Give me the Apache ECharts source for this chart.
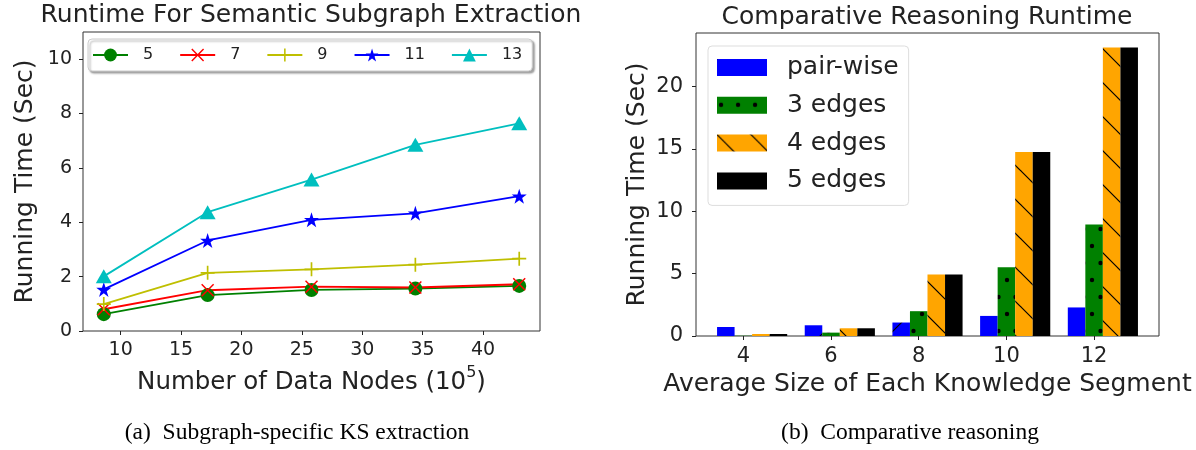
<!DOCTYPE html>
<html>
<head>
<meta charset="utf-8">
<title>Runtime charts</title>
<script src="https://cdn.jsdelivr.net/npm/echarts@6/dist/echarts.min.js"></script>
<style>
html, body { margin: 0; padding: 0; background: #fff; }
#main { width: 1196px; height: 450px; }
</style>
</head>
<body>
<div id="main"></div>
<script>
// left panel: subgraph extraction runtime
var dataNodes = [8.6, 17.2, 25.8, 34.4, 43.0];
var nodeTicks = [10, 15, 20, 25, 30, 35, 40];
var timeTicksA = [0, 2, 4, 6, 8, 10];
var ksNames = ['5', '7', '9', '11', '13'];
var ks5 = [0.62, 1.32, 1.51, 1.56, 1.66];
var ks7 = [0.80, 1.50, 1.63, 1.60, 1.72];
var ks9 = [0.99, 2.14, 2.27, 2.44, 2.66];
var ks11 = [1.53, 3.33, 4.09, 4.33, 4.96];
var ks13 = [2.01, 4.37, 5.57, 6.85, 7.64];

// right panel: comparative reasoning runtime
var segSizes = [4, 6, 8, 10, 12];
var timeTicksB = [0, 5, 10, 15, 20];
var barNames = ['pair-wise', '3 edges', '4 edges', '5 edges'];
var pairWise = [0.72, 0.86, 1.08, 1.61, 2.29];
var edges3 = [0.02, 0.27, 1.99, 5.51, 8.94];
var edges4 = [0.16, 0.62, 4.94, 14.76, 23.14];
var edges5 = [0.16, 0.62, 4.94, 14.76, 23.14];

var FONT = 'DejaVu Sans';
var INK = '#222';

// hatch fills like matplotlib
function hatch(bg, w, h, draw) {
	var c = document.createElement('canvas');
	c.width = w;
	c.height = h;
	var ctx = c.getContext('2d');
	ctx.fillStyle = bg;
	ctx.fillRect(0, 0, w, h);
	ctx.strokeStyle = '#000';
	ctx.fillStyle = '#000';
	ctx.lineWidth = 1.2;
	draw(ctx, w, h);
	return { image: c, repeat: 'repeat' };
}
function seg(ctx, x1, y1, x2, y2) {
	ctx.beginPath();
	ctx.moveTo(x1, y1);
	ctx.lineTo(x2, y2);
	ctx.stroke();
}
var blueHatch = hatch('#0000ff', 68, 68, function(ctx, w, h) {
	seg(ctx, 0, h, w, 0);
	seg(ctx, -2, 2, 2, -2);
	seg(ctx, w - 2, h + 2, w + 2, h - 2);
});
var greenHatch = hatch('#008000', 17, 34, function(ctx, w, h) {
	ctx.beginPath(); ctx.arc(4, 8, 2.2, 0, Math.PI * 2); ctx.fill();
	ctx.beginPath(); ctx.arc(12.5, 25, 2.2, 0, Math.PI * 2); ctx.fill();
});
var orangeHatch = hatch('#ffa500', 34, 34, function(ctx, w, h) {
	seg(ctx, 0, 0, w, h);
	seg(ctx, w - 2, -2, w + 2, 2);
	seg(ctx, -2, h - 2, 2, h + 2);
});

var starPath = 'path://M50,0 L61.8,35.1 L98.9,35.1 L69.1,56.7 L80.9,91.9 L50,70.2 L19.1,91.9 L30.9,56.7 L1.1,35.1 L38.2,35.1 Z';
var xPath = 'path://M0,8 L8,0 L50,42 L92,0 L100,8 L58,50 L100,92 L92,100 L50,58 L8,100 L0,92 L42,50 Z';
var plusPath = 'path://M44,0 L56,0 L56,44 L100,44 L100,56 L56,56 L56,100 L44,100 L44,56 L0,56 L0,44 L44,44 Z';

function lineSeries(name, vals, color, symbol, size) {
	return {
		name: name,
		type: 'line',
		xAxisIndex: 0,
		yAxisIndex: 0,
		data: dataNodes.map(function(x, i) { return [x, vals[i]]; }),
		symbol: symbol,
		symbolSize: size,
		showAllSymbol: true,
		lineStyle: { color: color, width: 1.8 },
		itemStyle: { color: color },
		emphasis: { disabled: true }
	};
}

function barSeries(name, vals, fill) {
	return {
		name: name,
		type: 'bar',
		xAxisIndex: 1,
		yAxisIndex: 1,
		barWidth: '20%',
		barGap: '0%',
		itemStyle: { color: fill },
		emphasis: { disabled: true },
		data: segSizes.map(function(s, i) { return [s, vals[i]]; })
	};
}

var series = [
	lineSeries(ksNames[0], ks5, '#008000', 'circle', 14),
	lineSeries(ksNames[1], ks7, '#ff0000', xPath, 13),
	lineSeries(ksNames[2], ks9, '#bfbf00', plusPath, 14),
	lineSeries(ksNames[3], ks11, '#0000ff', starPath, 15),
	lineSeries(ksNames[4], ks13, '#00bfbf', 'triangle', [16, 14]),
	// empty slot so the 2nd bar sits on the tick, as in matplotlib
	{ name: 'slot', type: 'bar', xAxisIndex: 1, yAxisIndex: 1, barWidth: '20%', barGap: '0%', data: [], silent: true },
	barSeries(barNames[0], pairWise, blueHatch),
	barSeries(barNames[1], edges3, greenHatch),
	barSeries(barNames[2], edges4, orangeHatch),
	barSeries(barNames[3], edges5, '#000000')
];

function tick(vals) {
	return { show: true, length: 4, lineStyle: { color: INK, width: 1 }, customValues: vals };
}
function label(vals, size, margin) {
	return { customValues: vals, fontSize: size, color: INK, margin: margin, fontFamily: FONT };
}

var chart = echarts.init(document.getElementById('main'));
chart.setOption({
	animation: false,
	backgroundColor: '#fff',
	textStyle: { fontFamily: FONT, color: INK },
	grid: [
		{ left: 83, top: 32, width: 457, height: 299, show: true, borderColor: '#333', borderWidth: 1, backgroundColor: 'transparent', outerBoundsMode: 'none' },
		{ left: 696, top: 33, width: 463, height: 303, show: true, borderColor: '#333', borderWidth: 1, backgroundColor: 'transparent', outerBoundsMode: 'none' }
	],
	xAxis: [
		{
			type: 'value', gridIndex: 0, min: 6.88, max: 44.72,
			axisLine: { show: false },
			axisTick: tick(nodeTicks),
			axisLabel: label(nodeTicks, 19, 10),
			splitLine: { show: false },
			name: '{a|Number of Data Nodes (10}{b|5}{a|)}',
			nameLocation: 'middle',
			nameGap: 34,
			nameTextStyle: {
				rich: {
					a: { fontSize: 24.5, color: INK, fontFamily: FONT, lineHeight: 36 },
					b: { fontSize: 16, color: INK, fontFamily: FONT, lineHeight: 16, verticalAlign: 'top' }
				}
			}
		},
		{
			type: 'value', gridIndex: 1, min: 2.92, max: 13.48,
			axisLine: { show: false },
			axisTick: tick(segSizes),
			axisLabel: label(segSizes, 21, 10),
			splitLine: { show: false },
			name: 'Average Size of Each Knowledge Segment',
			nameLocation: 'middle',
			nameGap: 35,
			nameTextStyle: { fontSize: 25, color: INK, fontFamily: FONT }
		}
	],
	yAxis: [
		{
			type: 'value', gridIndex: 0, min: 0, max: 11,
			axisLine: { show: false },
			axisTick: tick(timeTicksA),
			axisLabel: label(timeTicksA, 19, 11),
			splitLine: { show: false },
			name: 'Running Time (Sec)',
			nameLocation: 'middle',
			nameRotate: 90,
			nameGap: 45,
			nameTextStyle: { fontSize: 25, color: INK, fontFamily: FONT }
		},
		{
			type: 'value', gridIndex: 1, min: 0, max: 24.3,
			axisLine: { show: false },
			axisTick: tick(timeTicksB),
			axisLabel: label(timeTicksB, 21, 13),
			splitLine: { show: false },
			name: 'Running Time (Sec)',
			nameLocation: 'middle',
			nameRotate: 90,
			nameGap: 46,
			nameTextStyle: { fontSize: 25, color: INK, fontFamily: FONT }
		}
	],
	legend: [
		{
			data: ksNames,
			orient: 'horizontal',
			left: 88,
			top: 39,
			padding: [8, 10, 8, 4],
			itemGap: 26,
			itemWidth: 35,
			itemHeight: 16,
			backgroundColor: '#fff',
			borderColor: '#ccc',
			borderWidth: 1,
			borderRadius: 4,
			shadowColor: 'rgba(0,0,0,0.35)',
			shadowBlur: 2,
			shadowOffsetX: 2,
			shadowOffsetY: 2,
			selectedMode: false,
			textStyle: { fontSize: 16, color: INK, fontFamily: FONT, padding: [0, 0, 0, 10] }
		},
		{
			data: barNames,
			orient: 'vertical',
			left: 708,
			top: 46,
			padding: [9, 10, 12, 9],
			itemGap: 12.8,
			itemWidth: 50,
			itemHeight: 17,
			icon: 'rect',
			backgroundColor: '#fff',
			borderColor: '#ddd',
			borderWidth: 1,
			borderRadius: 4,
			selectedMode: false,
			textStyle: { fontSize: 25, color: INK, fontFamily: FONT, padding: [0, 0, 0, 15] }
		}
	],
	graphic: [
		{ type: 'text', x: 311, y: 15, style: { text: 'Runtime For Semantic Subgraph Extraction', fontSize: 25, fontFamily: FONT, fill: INK, align: 'center', verticalAlign: 'middle' } },
		{ type: 'text', x: 927, y: 17, style: { text: 'Comparative Reasoning Runtime', fontSize: 25, fontFamily: FONT, fill: INK, align: 'center', verticalAlign: 'middle' } },
		{ type: 'text', x: 297, y: 433, style: { text: '(a)  Subgraph-specific KS extraction', fontSize: 23.5, fontFamily: 'Liberation Serif', fill: '#000', align: 'center', verticalAlign: 'middle' } },
		{ type: 'text', x: 910, y: 433, style: { text: '(b)  Comparative reasoning', fontSize: 23.5, fontFamily: 'Liberation Serif', fill: '#000', align: 'center', verticalAlign: 'middle' } }
	],
	series: series
});
</script>
</body>
</html>
